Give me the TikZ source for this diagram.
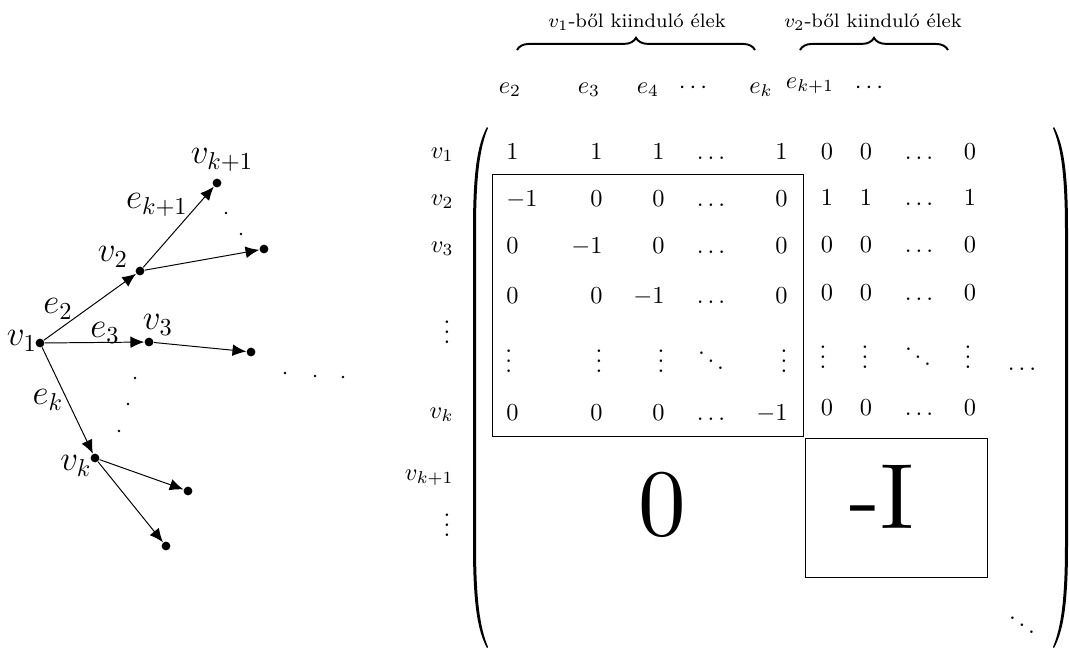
\documentclass[tikz,border=0pt]{standalone}
\usepackage{fontspec}
\usetikzlibrary{arrows.meta,decorations.pathreplacing}
\begin{document}
\begin{tikzpicture}[x=0.41pt,y=-0.41pt,
  dot/.style={circle,fill,inner sep=0pt,minimum size=3.6pt},
  sdot/.style={circle,fill,inner sep=0pt,minimum size=1.2pt},
  arc/.style={-{Latex[length=5.6pt,width=4.8pt]},line width=0.4pt},
  lab/.style={inner sep=0pt,font=\Large},
  ent/.style={inner sep=0pt,anchor=base},
  entw/.style={inner sep=0pt,anchor=base west},
  ente/.style={inner sep=0pt,anchor=base east},
  rowlab/.style={inner sep=0pt,anchor=base east},
  head/.style={inner sep=0pt,font=\footnotesize},
  brace/.style={decorate,decoration={brace,amplitude=5pt},line width=0.8pt},
  big/.style={inner sep=0pt},
  blk/.style={draw,line width=0.4pt}]
\useasboundingbox (0,0) rectangle (1069,650);
% ---------- graph ----------
\node[dot] (v1) at (40,343) {};
\node[dot] (v2) at (140,271) {};
\node[dot] (w1) at (217,183) {};
\node[dot] (w2) at (264,249) {};
\node[dot] (v3) at (149,342) {};
\node[dot] (w3) at (251,352) {};
\node[dot] (vk) at (95,458) {};
\node[dot] (w4) at (188,491) {};
\node[dot] (w5) at (166,546) {};
\draw[arc] (v1) -- (v2);
\draw[arc] (v1) -- (v3);
\draw[arc] (v1) -- (vk);
\draw[arc] (v2) -- (w1);
\draw[arc] (v2) -- (w2);
\draw[arc] (v3) -- (w3);
\draw[arc] (vk) -- (w4);
\draw[arc] (vk) -- (w5);
\foreach \p/\n in {{(226,213)}/a,{(241,234)}/b,{(135,378)}/c,{(128,404)}/d,{(119,431)}/e,{(285,373)}/f,{(315,376)}/g,{(343,377)}/h}
  \node[sdot] (s\n) at \p {};
\node[lab] (lv1) at (22,341) {$v_1$};
\node[lab] (lv2) at (113,257) {$v_2$};
\node[lab] (lv3) at (158,325) {$v_3$};
\node[lab] (lvk) at (76,466) {$v_k$};
\node[lab] (lvk1) at (222,160) {$v_{k+1}$};
\node[lab] (le2) at (58,309) {$e_2$};
\node[lab] (le3) at (105,333) {$e_3$};
\node[lab] (lek) at (48,400) {$e_k$};
\node[lab] (lek1) at (157,205) {$e_{k+1}$};
% ---------- headers ----------
\node[head] (h1) at (637,22) {$v_1$-ből kiinduló élek};
\node[head] (h2) at (873,22) {$v_2$-ből kiinduló élek};
\draw[brace] (517,50) -- (755,50);
\draw[brace] (800,50) -- (948,50);
\node[ent] (c1) at (510,93) {$e_2$};
\node[ent] (c2) at (589,93) {$e_3$};
\node[ent] (c3) at (648,93) {$e_4$};
\node[ent] (c4) at (693,93) {$\cdots$};
\node[ent] (c5) at (761,93) {$e_k$};
\node[ent] (c6) at (810,88) {$e_{k+1}$};
\node[ent] (c7) at (869,93) {$\cdots$};
% ---------- row labels ----------
\node[rowlab] (r1) at (454,158) {$v_1$};
\node[rowlab] (r2) at (454,205) {$v_2$};
\node[rowlab] (r3) at (454,252) {$v_3$};
\node[inner sep=0pt] (r4) at (447,325) {$\vdots$};
\node[rowlab] (r5) at (454,418) {$v_k$};
\node[rowlab] (r6) at (454,480) {$v_{k+1}$};
\node[inner sep=0pt] (r7) at (447,518) {$\vdots$};
% ---------- left block ----------
\foreach \y/\a/\b/\c/\d/\e/\i in {159/1/1/1/\dots/1/1,206/-1/0/0/\dots/0/2,253/0/-1/0/\dots/0/3,303/0/0/-1/\dots/0/4,420/0/0/0/\dots/-1/6}{
  \node[entw] (m\i a) at (506,\y) {$\a$};
  \node[ente] (m\i b) at (603,\y) {$\b$};
  \node[ente] (m\i c) at (665,\y) {$\c$};
  \node[ent]  (m\i d) at (711,\y) {$\d$};
  \node[ente] (m\i e) at (788,\y) {$\e$};
}
\node[entw] (m5a) at (505,372) {$\vdots$};
\node[ente] (m5b) at (603,372) {$\vdots$};
\node[ente] (m5c) at (665,372) {$\vdots$};
\node[ent]  (m5d) at (711,372) {$\ddots$};
\node[ente] (m5e) at (788,372) {$\vdots$};
% ---------- right block ----------
\foreach \y/\a/\b/\c/\d/\i in {159/0/0/\dots/0/1,205/1/1/\dots/1/2,252/0/0/\dots/0/3,300/0/0/\dots/0/4,415/0/0/\dots/0/6}{
  \node[ent] (n\i a) at (827,\y) {$\a$};
  \node[ent] (n\i b) at (866,\y) {$\b$};
  \node[ent] (n\i c) at (919,\y) {$\c$};
  \node[ent] (n\i d) at (970,\y) {$\d$};
}
\node[ent] (n5a) at (823,368) {$\vdots$};
\node[ent] (n5b) at (865,368) {$\vdots$};
\node[ent] (n5c) at (918,368) {$\ddots$};
\node[ent] (n5d) at (968,368) {$\vdots$};
\node[ent] (x1) at (1022,370) {$\dots$};
\node[inner sep=0pt] (x2) at (1022,618) {$\ddots$};
% ---------- blocks ----------
\draw[blk] (492,174) rectangle (803,436);
\draw[blk] (805,438) rectangle (987,577);
\node[big] (zero) at (662,505) {\scalebox{3.9}{\addfontfeatures{FakeBold=1.5}0}};
\node[big] (negI) at (882,497) {\scalebox{3.8}{\addfontfeatures{FakeBold=1.5}-I}};
% ---------- parentheses ----------
\fill (487,127) .. controls (477,145) and (473,175) .. (473,230) -- (473,545)
  .. controls (473,600) and (477,630) .. (487,648)
  -- (488,647) .. controls (480,628) and (476,600) .. (476,545) -- (476,230)
  .. controls (476,175) and (480,147) .. (488,128) -- cycle;
\fill (1054,127) .. controls (1064,145) and (1068,175) .. (1068,230) -- (1068,545)
  .. controls (1068,600) and (1064,630) .. (1054,648)
  -- (1053,647) .. controls (1061,628) and (1065,600) .. (1065,545) -- (1065,230)
  .. controls (1065,175) and (1061,147) .. (1053,128) -- cycle;
\end{tikzpicture}
\end{document}
